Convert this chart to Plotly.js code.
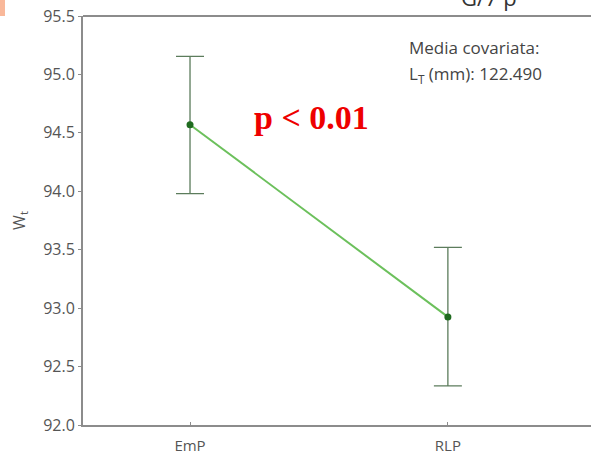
<!DOCTYPE html>
<html><head><meta charset="utf-8">
<script src="https://cdn.plot.ly/plotly-3.0.1.min.js"></script>
<style>html,body{margin:0;padding:0;background:#fff;}</style>
</head><body><div id="chart" style="width:591px;height:457px;"></div>
<script>
const categories = ["EmP", "RLP"];
const means = [94.57, 92.925];
const errUpper = [0.585, 0.595];
const errLower = [0.59, 0.59];
const yTicks = [92.0, 92.5, 93.0, 93.5, 94.0, 94.5, 95.0, 95.5];

const xIdx = categories.map((c, i) => i);

const trace = {
  x: xIdx, y: means, type: "scatter", mode: "lines+markers",
  line: {color: "#6cc05c", width: 2},
  marker: {color: "#1f6b1f", size: 7},
  error_y: {type: "data", symmetric: false, array: errUpper, arrayminus: errLower,
    color: "#5c7c5c", thickness: 1.3, width: 14},
  hoverinfo: "none"
};

const layout = {
  width: 591, height: 457,
  margin: {l: 83, r: 0, t: 16, b: 32},
  paper_bgcolor: "#fff", plot_bgcolor: "#fff",
  showlegend: false,
  font: {family: "Open Sans, sans-serif", color: "#555", size: 14},
  xaxis: {
    range: [-0.415, 1.555], tickvals: xIdx, ticktext: categories,
    showgrid: false, zeroline: false, showline: true, linecolor: "#8c8c8c", linewidth: 2,
    ticks: "inside", ticklen: 3, tickcolor: "#8c8c8c", ticklabelstandoff: 6,
    tickfont: {size: 15, color: "#555"}
  },
  yaxis: {
    range: [92.0, 95.5], tickvals: yTicks, ticktext: yTicks.map(v => v.toFixed(1)),
    showgrid: false, zeroline: false, showline: true, linecolor: "#8c8c8c", linewidth: 2,
    ticks: "outside", ticklen: 3, tickcolor: "#8c8c8c",
    tickfont: {size: 16, color: "#555"},
    title: {text: "W<sub>t</sub>", font: {size: 16, color: "#555"}, standoff: 14}
  },
  shapes: [
    {type: "line", xref: "paper", yref: "paper", x0: 0, x1: 1, y0: 1, y1: 1,
     line: {color: "#8c8c8c", width: 2}},
    {type: "rect", xref: "paper", yref: "paper", x0: -0.1634, x1: -0.1535, y0: 1.0, y1: 1.04,
     fillcolor: "#f9b89a", line: {width: 0}}
  ],
  annotations: [
    {xref: "paper", yref: "paper", x: 0.638, y: 0.924, xanchor: "left", yanchor: "middle",
     text: "Media covariata:", showarrow: false, font: {size: 17, color: "#444"}},
    {xref: "paper", yref: "paper", x: 0.638, y: 0.856, xanchor: "left", yanchor: "middle",
     text: "L<sub>T</sub> (mm): 122.490", showarrow: false, font: {size: 17, color: "#444"}},
    {xref: "paper", yref: "paper", x: 0.449, y: 0.753, xanchor: "center", yanchor: "middle",
     text: "<b>p &lt; 0.01</b>", showarrow: false,
     font: {family: "Liberation Serif, serif", size: 34, color: "#ee0000"}},
    {xref: "paper", yref: "paper", x: 0.80, y: 1.005, xanchor: "center", yanchor: "bottom",
     text: "G/7 p", showarrow: false, font: {size: 22, color: "#333"}}
  ]
};

Plotly.newPlot("chart", [trace], layout, {staticPlot: true, displayModeBar: false});
</script></body></html>
